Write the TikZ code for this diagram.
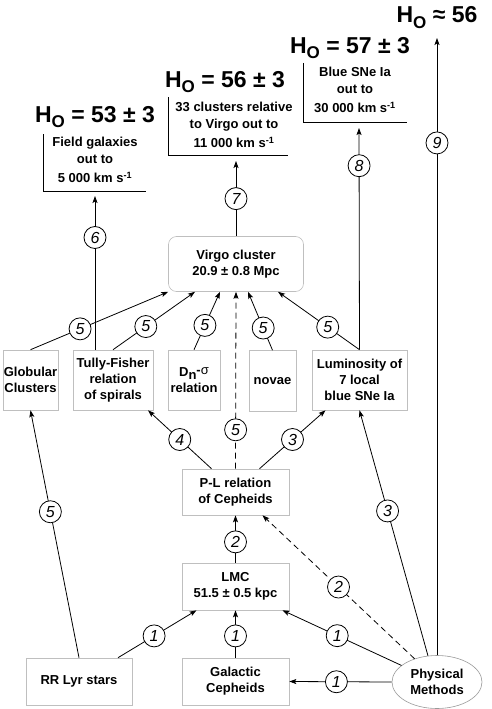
\documentclass[tikz,border=0pt]{standalone}
\usepackage{fontspec}
\setmainfont{Liberation Sans}
\usetikzlibrary{arrows.meta, calc, shapes.geometric}

\newcommand{\Hnot}{H\raisebox{-0.45ex}{\fontsize{17}{17}\selectfont O}}
\newcommand{\kms}{km s\textsuperscript{-1}}

\begin{document}
\begin{tikzpicture}[x=1pt,y=-1pt,
>={Stealth[length=7pt,width=5pt,inset=1.5pt]},line width=0.8pt,
font=\fontsize{13}{16}\selectfont\bfseries,
box/.style={draw=black!25,line width=0.6pt,align=center,inner sep=0pt},
num/.style={circle,draw=black,solid,fill=white,inner sep=0pt,minimum size=22pt,
  font=\fontsize{16}{16}\selectfont\mdseries\itshape},
head/.style={anchor=base,font=\fontsize{23}{23}\selectfont\bfseries},
blurb/.style={align=center,font=\fontsize{13}{17}\selectfont\bfseries}]

  \useasboundingbox (0,0) rectangle (491,709);

  % \draw[black!10] (0,0) grid[step=50] (491,709);

  % distance ladder
  \node[box,rounded corners=8pt,minimum width=135pt,minimum height=55pt] (virgo) at (236,264) {Virgo cluster\\20.9 ± 0.8 Mpc};
  \node[box,minimum width=55pt,minimum height=60pt]  (glob)  at (30.5,380)  {Globular\\Clusters};
  \node[box,minimum width=80pt,minimum height=60pt]  (tf)    at (113,380)   {Tully-Fisher\\relation\\of spirals};
  \node[box,minimum width=52pt,minimum height=60pt]  (dn)    at (194,380)   {D\raisebox{-0.35ex}{n}\raisebox{0.4ex}{-\mdseries σ}\\relation};
  \node[box,minimum width=47pt,minimum height=61pt]  (novae) at (272.5,381) {novae};
  \node[box,minimum width=95pt,minimum height=60pt]  (lum)   at (359.5,380) {Luminosity of\\7 local\\blue SNe Ia};
  \node[box,minimum width=107pt,minimum height=46pt] (pl)    at (235.5,492) {P-L relation\\of Cepheids};
  \node[box,minimum width=107pt,minimum height=47pt] (lmc)   at (235.5,586.5) {LMC\\51.5 ± 0.5 kpc};
  \node[box,minimum width=106pt,minimum height=47pt] (rr)    at (79,681.5)  {RR Lyr stars};
  \node[box,minimum width=107pt,minimum height=47pt] (gal)   at (235.5,681.5) {Galactic\\Cepheids};
  \node[ellipse,draw=black!40,line width=0.6pt,minimum width=90pt,minimum height=53pt,
        inner sep=0pt,align=center] (phys) at (437,682) {Physical\\Methods};

  % results
  \node[head] (h9) at (437,23)  {\Hnot\ ≈ 56};
  \node[head] (h8) at (350,53)  {\Hnot\ = 57 ± 3};
  \node[head] (h7) at (225,87)  {\Hnot\ = 56 ± 3};
  \node[head] (h6) at (95,122)  {\Hnot\ = 53 ± 3};
  \node[blurb] (t8) at (355,90)  {Blue SNe Ia\\out to\\[2pt]30~000 \kms};
  \node[blurb] (t7) at (234,125) {33 clusters relative\\to Virgo out to\\[2pt]11~000 \kms};
  \node[blurb] (t6) at (95,160)  {Field galaxies\\out to\\[2pt]5~000 \kms};
  \draw (303,63) |- (407,122);
  \draw (168,97) |- (288,155);
  \draw (43,134) |- (146,191);
  \coordinate (e9) at (437,38);
  \coordinate (e8) at (359,128);
  \coordinate (e7) at (236,161);
  \coordinate (e6) at (95,196);

  \draw[->] (phys.north) -- node[num,pos=.83]{9} (e9);
  \draw[->] (lum.north) -- node[num,pos=.83]{8} (e8);
  \draw[->] (virgo.north) -- node[num]{7} (e7);
  \draw[->] ($(tf.north)+(-18,0)$) -- node[num,pos=.73]{6} (e6);

  % into Virgo
  \draw[->] (glob.north) -- node[num,pos=.36]{5} (virgo.south west);
  \draw[->] (tf.north) -- node[num,pos=.4]{5} ($(virgo.south)+(-41,0)$);
  \draw[->] (dn.north) -- node[num,pos=.42]{5} ($(virgo.south)+(-16,0)$);
  \draw[->] (novae.north) -- node[num,pos=.38]{5} ($(virgo.south)+(12,0)$);
  \draw[->] (lum.north) -- node[num,pos=.39]{5} ($(virgo.south)+(42,0)$);
  \draw[->,dash pattern=on 6pt off 4pt] (pl.north) -- node[num,pos=.22]{5} (virgo.south);

  % Cepheids
  \draw[->] ($(pl.north)+(-24,0)$) -- node[num]{4} ($(tf.south)+(35,0)$);
  \draw[->] ($(pl.north)+(24,0)$) -- node[num]{3} ($(lum.south)+(-34,0)$);
  \draw[->] (lmc.north) -- node[num,pos=.44]{2} (pl.south);

  % calibrators
  \draw[->] ($(rr.north)+(39,0)$) -- node[num,pos=.46]{1} ($(lmc.south)+(-39,0)$);
  \draw[->] (gal.north) -- node[num,pos=.46]{1} (lmc.south);
  \draw[->] (phys.155) -- node[num,pos=.54]{1} ($(lmc.south)+(47,0)$);
  \draw[->] (phys.west) -- node[num,pos=.54]{1} (gal.east);
  \draw[->,dash pattern=on 6pt off 4pt] (phys.134) -- node[num]{2} ($(pl.south)+(27,0)$);
  \draw[->] (phys.109) -- node[num,pos=.59]{3} (lum.south);
  \draw[->] (rr.north) -- node[num,pos=.59]{5} (glob.south);
\end{tikzpicture}
\end{document}
